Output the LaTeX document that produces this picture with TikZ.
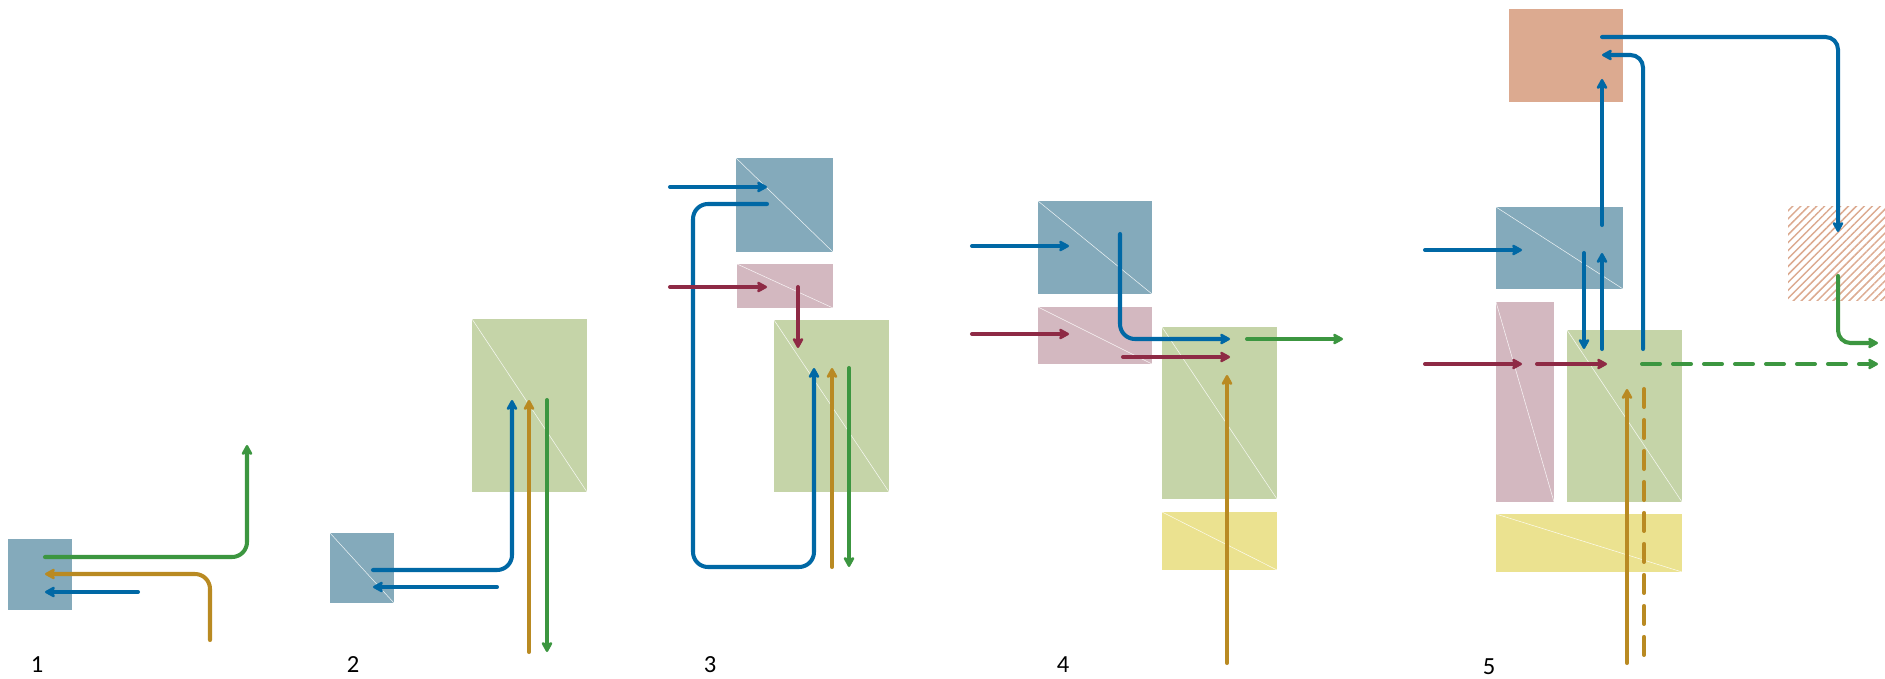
\documentclass[tikz,border=0pt]{standalone}
\usepackage{fontspec}
\setmainfont{Carlito}
\usetikzlibrary{arrows.meta, fit, patterns.meta}
\definecolor{boxblue}{RGB}{132,170,187}
\definecolor{boxgreen}{RGB}{197,212,168}
\definecolor{boxpink}{RGB}{211,184,192}
\definecolor{boxyellow}{RGB}{235,226,144}
\definecolor{boxsalmon}{RGB}{220,170,144}
\definecolor{lineblue}{RGB}{0,104,165}
\definecolor{linegreen}{RGB}{60,150,64}
\definecolor{linegold}{RGB}{185,138,34}
\definecolor{linered}{RGB}{142,42,69}

\tikzset{
  box/.style={inner sep=0pt, outer sep=0pt, draw=none},
  seam/.style={draw=white, line width=0.3pt, draw opacity=0.85},
  flow/.style={line width=2.3pt, line cap=round, rounded corners=0.3cm,
    -{Stealth[length=0.24cm, width=0.26cm, inset=0.05cm, round]}},
  plain/.style={line width=2.3pt, line cap=round},
  gapped/.style={dash pattern=on 0.36cm off 0.26cm},
  panellabel/.style={font=\fontsize{14}{16}\selectfont, inner sep=0pt}
}

\begin{document}
\begin{tikzpicture}[x=0.02cm, y=-0.02cm]
  \useasboundingbox (0,0) rectangle (1885,679);

  % Panel 1
  \node[box, fill=boxblue, fit={(8,539) (72,610)}] (b1) {};
  \coordinate (gr1a) at (45,557);  \coordinate (gr1b) at (247,445);
  \coordinate (or1a) at (210,640); \coordinate (or1b) at (45,574);
  \coordinate (bl1a) at (138,592); \coordinate (bl1b) at (45,592);
  \draw[flow, linegreen] (gr1a) -| (gr1b);
  \draw[flow, linegold] (or1a) |- (or1b);
  \draw[flow, lineblue] (bl1a) -- (bl1b);
  \node[panellabel] (n1) at (37,665) {1};

  % Panel 2
  \node[box, fill=boxblue, fit={(330,533) (394,603)}] (b2) {};
  \node[box, fill=boxgreen, fit={(472,319) (587,492)}] (g2) {};
  \draw[seam] (b2.north west) -- (b2.south east);
  \draw[seam] (g2.north west) -- (g2.south east);
  \coordinate (bl2a) at (373,570); \coordinate (bl2b) at (512,400);
  \coordinate (bl2c) at (497,587); \coordinate (bl2d) at (373,587);
  \coordinate (or2a) at (529,652); \coordinate (or2b) at (529,400);
  \coordinate (gr2a) at (547,400); \coordinate (gr2b) at (547,652);
  \draw[flow, lineblue] (bl2a) -| (bl2b);
  \draw[flow, lineblue] (bl2c) -- (bl2d);
  \draw[flow, linegold] (or2a) -- (or2b);
  \draw[flow, linegreen] (gr2a) -- (gr2b);
  \node[panellabel] (n2) at (353,665) {2};

  % Panel 3
  \node[box, fill=boxblue, fit={(736,158) (833,252)}] (b3) {};
  \node[box, fill=boxpink, fit={(737,264) (833,308)}] (p3) {};
  \node[box, fill=boxgreen, fit={(774,320) (889,492)}] (g3) {};
  \foreach \b in {b3, p3, g3}
    \draw[seam] (\b.north west) -- (\b.south east);
  \coordinate (bl3a) at (670,187); \coordinate (bl3b) at (767,187);
  \coordinate (bl3c) at (767,204); \coordinate (bl3d) at (693,567);
  \coordinate (bl3e) at (814,368);
  \coordinate (rd3a) at (670,287); \coordinate (rd3b) at (767,287);
  \coordinate (rd3c) at (798,287); \coordinate (rd3d) at (798,348);
  \coordinate (or3a) at (832,567); \coordinate (or3b) at (832,368);
  \coordinate (gr3a) at (849,368); \coordinate (gr3b) at (849,567);
  \draw[flow, lineblue] (bl3a) -- (bl3b);
  \draw[flow, lineblue] (bl3c) -| (bl3d) -| (bl3e);
  \draw[flow, linered] (rd3a) -- (rd3b);
  \draw[flow, linered] (rd3c) -- (rd3d);
  \draw[flow, linegold] (or3a) -- (or3b);
  \draw[flow, linegreen] (gr3a) -- (gr3b);
  \node[panellabel] (n3) at (710,665) {3};

  % Panel 4
  \node[box, fill=boxblue, fit={(1038,201) (1152,294)}] (b4) {};
  \node[box, fill=boxpink, fit={(1038,307) (1152,364)}] (p4) {};
  \node[box, fill=boxgreen, fit={(1162,327) (1277,499)}] (g4) {};
  \node[box, fill=boxyellow, fit={(1162,512) (1277,570)}] (y4) {};
  \foreach \b in {b4, p4, g4, y4}
    \draw[seam] (\b.north west) -- (\b.south east);
  \coordinate (bl4a) at (972,246);  \coordinate (bl4b) at (1069,246);
  \coordinate (bl4c) at (1120,234); \coordinate (bl4d) at (1230,339);
  \coordinate (gr4a) at (1247,339); \coordinate (gr4b) at (1343,339);
  \coordinate (rd4a) at (972,334);  \coordinate (rd4b) at (1069,334);
  \coordinate (rd4c) at (1123,357); \coordinate (rd4d) at (1230,357);
  \coordinate (or4a) at (1227,663); \coordinate (or4b) at (1227,375);
  \draw[flow, lineblue] (bl4a) -- (bl4b);
  \draw[flow, lineblue] (bl4c) |- (bl4d);
  \draw[flow, linegreen] (gr4a) -- (gr4b);
  \draw[flow, linered] (rd4a) -- (rd4b);
  \draw[flow, linered] (rd4c) -- (rd4d);
  \draw[flow, linegold] (or4a) -- (or4b);
  \node[panellabel] (n4) at (1063,665) {4};

  % Panel 5
  \node[box, fill=boxsalmon, fit={(1509,9) (1623,102)}] (s5) {};
  \node[box, fill=boxblue, fit={(1496,207) (1623,289)}] (b5) {};
  \node[box, fill=boxpink, fit={(1496,302) (1554,502)}] (p5) {};
  \node[box, fill=boxgreen, fit={(1567,330) (1682,502)}] (g5) {};
  \node[box, fill=boxyellow, fit={(1496,514) (1682,572)}] (y5) {};
  \node[box, pattern={Lines[angle=45, distance=3.2pt, line width=0.85pt]},
    pattern color=boxsalmon, fit={(1788,206) (1885,300)}] (h5) {};
  \foreach \b in {b5, p5, g5, y5}
    \draw[seam] (\b.north west) -- (\b.south east);
  \coordinate (bl5a) at (1425,250); \coordinate (bl5b) at (1522,250);
  \coordinate (bl5c) at (1602,225); \coordinate (bl5d) at (1602,79);
  \coordinate (bl5e) at (1584,253); \coordinate (bl5f) at (1584,349);
  \coordinate (bl5g) at (1602,349); \coordinate (bl5h) at (1602,253);
  \coordinate (bl5i) at (1643,349); \coordinate (bl5j) at (1602,55);
  \coordinate (bl5k) at (1602,37);  \coordinate (bl5l) at (1838,232);
  \coordinate (gr5a) at (1838,276); \coordinate (gr5b) at (1878,343);
  \coordinate (gr5c) at (1642,364); \coordinate (gr5d) at (1878,364);
  \coordinate (rd5a) at (1425,364); \coordinate (rd5b) at (1522,364);
  \coordinate (rd5c) at (1537,364); \coordinate (rd5d) at (1607,364);
  \coordinate (or5a) at (1627,663); \coordinate (or5b) at (1627,389);
  \coordinate (or5c) at (1644,389); \coordinate (or5d) at (1644,663);
  \draw[flow, lineblue] (bl5a) -- (bl5b);
  \draw[flow, lineblue] (bl5c) -- (bl5d);
  \draw[flow, lineblue] (bl5e) -- (bl5f);
  \draw[flow, lineblue] (bl5g) -- (bl5h);
  \draw[flow, lineblue, rounded corners=0.25cm] (bl5i) |- (bl5j);
  \draw[flow, lineblue, rounded corners=0.25cm] (bl5k) -| (bl5l);
  \draw[flow, linegreen, rounded corners=0.25cm] (gr5a) |- (gr5b);
  \draw[flow, linegreen, gapped] (gr5c) -- (gr5d);
  \draw[flow, linered] (rd5a) -- (rd5b);
  \draw[flow, linered] (rd5c) -- (rd5d);
  \draw[flow, linegold] (or5a) -- (or5b);
  \draw[plain, linegold, gapped] (or5c) -- (or5d);
  \node[panellabel] (n5) at (1489,667) {5};
\end{tikzpicture}
\end{document}
